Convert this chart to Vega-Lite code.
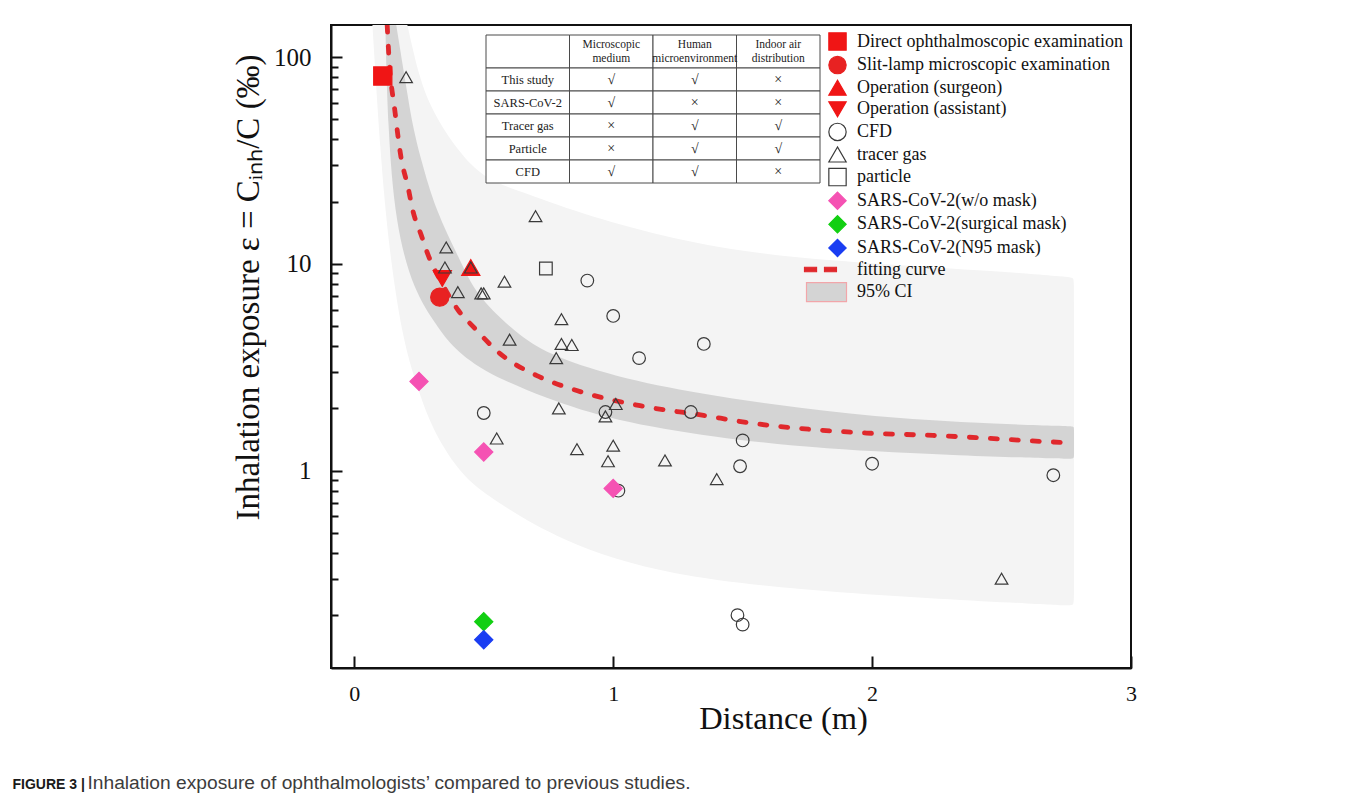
{
  "$schema": "https://vega.github.io/schema/vega-lite/v6.json",
  "width": 800,
  "height": 643,
  "autosize": {"type": "none"},
  "padding": {"left": 331, "top": 25, "right": 229, "bottom": 135},
  "background": "white",
  "config": {
    "view": {"stroke": "#111", "strokeWidth": 2},
    "axis": {"grid": false},
    "legend": {
      "labelFont": "Liberation Serif", "labelFontSize": 18, "labelColor": "#111", "labelLimit": 400,
      "labelOffset": 10, "rowPadding": 0.6, "padding": 0, "symbolOpacity": 1, "symbolSize": 300, "symbolStrokeWidth": 1.2
    }
  },
  "datasets": {
    "outerBand": [
      {"i": 1, "x": 0.205, "y": 143},
      {"i": 2, "x": 0.25, "y": 80},
      {"i": 3, "x": 0.3, "y": 55},
      {"i": 4, "x": 0.4, "y": 35},
      {"i": 5, "x": 0.5, "y": 26},
      {"i": 6, "x": 0.628, "y": 22.7},
      {"i": 7, "x": 0.873, "y": 17.5},
      {"i": 8, "x": 1.195, "y": 13.5},
      {"i": 9, "x": 1.53, "y": 11.2},
      {"i": 10, "x": 2.0, "y": 10.0},
      {"i": 11, "x": 2.5, "y": 9.2},
      {"i": 12, "x": 2.74, "y": 8.65},
      {"i": 13, "x": 2.78, "y": 8.6},
      {"i": 14, "x": 2.78, "y": 8.2},
      {"i": 15, "x": 2.78, "y": 1.5},
      {"i": 16, "x": 2.78, "y": 0.235},
      {"i": 17, "x": 2.78, "y": 0.222},
      {"i": 18, "x": 2.74, "y": 0.223},
      {"i": 19, "x": 1.85, "y": 0.255},
      {"i": 20, "x": 1.2, "y": 0.31},
      {"i": 21, "x": 0.8, "y": 0.45},
      {"i": 22, "x": 0.5, "y": 0.77},
      {"i": 23, "x": 0.4, "y": 1.0},
      {"i": 24, "x": 0.3, "y": 1.6},
      {"i": 25, "x": 0.25, "y": 2.4},
      {"i": 26, "x": 0.19, "y": 4.07},
      {"i": 27, "x": 0.134, "y": 11.6},
      {"i": 28, "x": 0.1, "y": 35},
      {"i": 29, "x": 0.07, "y": 143}
    ],
    "innerBand": [
      {"i": 1, "x": 0.162, "y": 143},
      {"i": 2, "x": 0.203, "y": 68.7},
      {"i": 3, "x": 0.225, "y": 47},
      {"i": 4, "x": 0.255, "y": 32.7},
      {"i": 5, "x": 0.315, "y": 18},
      {"i": 6, "x": 0.405, "y": 10.7},
      {"i": 7, "x": 0.47, "y": 7.0},
      {"i": 8, "x": 0.628, "y": 4.6},
      {"i": 9, "x": 0.744, "y": 3.67},
      {"i": 10, "x": 1.0, "y": 2.85},
      {"i": 11, "x": 1.336, "y": 2.35},
      {"i": 12, "x": 1.722, "y": 2.0},
      {"i": 13, "x": 2.108, "y": 1.78},
      {"i": 14, "x": 2.494, "y": 1.68},
      {"i": 15, "x": 2.74, "y": 1.645},
      {"i": 16, "x": 2.78, "y": 1.64},
      {"i": 17, "x": 2.78, "y": 1.6},
      {"i": 18, "x": 2.78, "y": 1.17},
      {"i": 19, "x": 2.78, "y": 1.14},
      {"i": 20, "x": 2.74, "y": 1.143},
      {"i": 21, "x": 2.366, "y": 1.18},
      {"i": 22, "x": 1.8, "y": 1.27},
      {"i": 23, "x": 1.387, "y": 1.45},
      {"i": 24, "x": 1.0, "y": 1.75},
      {"i": 25, "x": 0.744, "y": 2.22},
      {"i": 26, "x": 0.486, "y": 3.05},
      {"i": 27, "x": 0.37, "y": 4.07},
      {"i": 28, "x": 0.32, "y": 5.0},
      {"i": 29, "x": 0.229, "y": 7.4},
      {"i": 30, "x": 0.158, "y": 15.5},
      {"i": 31, "x": 0.129, "y": 47},
      {"i": 32, "x": 0.12, "y": 143}
    ],
    "fit": [
      {"x": 0.127, "y": 143},
      {"x": 0.133, "y": 104},
      {"x": 0.158, "y": 53.4},
      {"x": 0.178, "y": 34.2},
      {"x": 0.21, "y": 22.7},
      {"x": 0.223, "y": 18.8},
      {"x": 0.261, "y": 13.5},
      {"x": 0.281, "y": 11.4},
      {"x": 0.34, "y": 8.0},
      {"x": 0.4, "y": 6.0},
      {"x": 0.461, "y": 4.94},
      {"x": 0.564, "y": 3.67},
      {"x": 0.705, "y": 2.88},
      {"x": 0.859, "y": 2.44},
      {"x": 1.104, "y": 2.06},
      {"x": 1.349, "y": 1.85},
      {"x": 1.516, "y": 1.71},
      {"x": 1.979, "y": 1.52},
      {"x": 2.235, "y": 1.48},
      {"x": 2.726, "y": 1.37},
      {"x": 2.78, "y": 1.36}
    ],
    "points": [
      {"x": 0.11, "y": 81, "series": "Direct ophthalmoscopic examination"},
      {"x": 0.33, "y": 6.9, "series": "Slit-lamp microscopic examination"},
      {"x": 0.45, "y": 9.6, "series": "Operation (surgeon)"},
      {"x": 0.34, "y": 8.5, "series": "Operation (assistant)"},
      {"x": 0.2, "y": 80, "series": "tracer gas"},
      {"x": 0.355, "y": 12, "series": "tracer gas"},
      {"x": 0.35, "y": 9.6, "series": "tracer gas"},
      {"x": 0.45, "y": 9.6, "series": "tracer gas"},
      {"x": 0.4, "y": 7.3, "series": "tracer gas"},
      {"x": 0.49, "y": 7.2, "series": "tracer gas"},
      {"x": 0.5, "y": 7.2, "series": "tracer gas"},
      {"x": 0.58, "y": 8.2, "series": "tracer gas"},
      {"x": 0.7, "y": 17, "series": "tracer gas"},
      {"x": 0.8, "y": 5.4, "series": "tracer gas"},
      {"x": 0.6, "y": 4.3, "series": "tracer gas"},
      {"x": 0.8, "y": 4.1, "series": "tracer gas"},
      {"x": 0.84, "y": 4.05, "series": "tracer gas"},
      {"x": 0.78, "y": 3.5, "series": "tracer gas"},
      {"x": 0.79, "y": 2.0, "series": "tracer gas"},
      {"x": 1.01, "y": 2.1, "series": "tracer gas"},
      {"x": 0.97, "y": 1.83, "series": "tracer gas"},
      {"x": 0.55, "y": 1.43, "series": "tracer gas"},
      {"x": 0.86, "y": 1.27, "series": "tracer gas"},
      {"x": 1.0, "y": 1.32, "series": "tracer gas"},
      {"x": 0.98, "y": 1.11, "series": "tracer gas"},
      {"x": 1.2, "y": 1.12, "series": "tracer gas"},
      {"x": 1.4, "y": 0.91, "series": "tracer gas"},
      {"x": 2.5, "y": 0.3, "series": "tracer gas"},
      {"x": 0.9, "y": 8.3, "series": "CFD"},
      {"x": 1.0, "y": 5.6, "series": "CFD"},
      {"x": 1.35, "y": 4.1, "series": "CFD"},
      {"x": 1.1, "y": 3.5, "series": "CFD"},
      {"x": 0.5, "y": 1.9, "series": "CFD"},
      {"x": 0.97, "y": 1.92, "series": "CFD"},
      {"x": 1.3, "y": 1.92, "series": "CFD"},
      {"x": 1.5, "y": 1.4, "series": "CFD"},
      {"x": 1.49, "y": 1.05, "series": "CFD"},
      {"x": 1.02, "y": 0.8, "series": "CFD"},
      {"x": 2.0, "y": 1.08, "series": "CFD"},
      {"x": 2.7, "y": 0.95, "series": "CFD"},
      {"x": 1.48, "y": 0.2, "series": "CFD"},
      {"x": 1.5, "y": 0.18, "series": "CFD"},
      {"x": 0.74, "y": 9.5, "series": "particle"},
      {"x": 0.25, "y": 2.7, "series": "SARS-CoV-2(w/o mask)"},
      {"x": 0.5, "y": 1.23, "series": "SARS-CoV-2(w/o mask)"},
      {"x": 1.0, "y": 0.82, "series": "SARS-CoV-2(w/o mask)"},
      {"x": 0.5, "y": 0.186, "series": "SARS-CoV-2(surgical mask)"},
      {"x": 0.5, "y": 0.152, "series": "SARS-CoV-2(N95 mask)"}
    ],
    "tableHead": [
      {"row": "header", "col": "label", "text": ""},
      {"row": "header", "col": "Microscopic medium", "text": "Microscopic\nmedium"},
      {"row": "header", "col": "Human microenvironment", "text": "Human\nmicroenvironment"},
      {"row": "header", "col": "Indoor air distribution", "text": "Indoor air\ndistribution"}
    ],
    "tableBody": [
      {"row": "This study", "col": "label", "text": "This study"},
      {"row": "This study", "col": "Microscopic medium", "text": "√"},
      {"row": "This study", "col": "Human microenvironment", "text": "√"},
      {"row": "This study", "col": "Indoor air distribution", "text": "×"},
      {"row": "SARS-CoV-2", "col": "label", "text": "SARS-CoV-2"},
      {"row": "SARS-CoV-2", "col": "Microscopic medium", "text": "√"},
      {"row": "SARS-CoV-2", "col": "Human microenvironment", "text": "×"},
      {"row": "SARS-CoV-2", "col": "Indoor air distribution", "text": "×"},
      {"row": "Tracer gas", "col": "label", "text": "Tracer gas"},
      {"row": "Tracer gas", "col": "Microscopic medium", "text": "×"},
      {"row": "Tracer gas", "col": "Human microenvironment", "text": "√"},
      {"row": "Tracer gas", "col": "Indoor air distribution", "text": "√"},
      {"row": "Particle", "col": "label", "text": "Particle"},
      {"row": "Particle", "col": "Microscopic medium", "text": "×"},
      {"row": "Particle", "col": "Human microenvironment", "text": "√"},
      {"row": "Particle", "col": "Indoor air distribution", "text": "√"},
      {"row": "CFD", "col": "label", "text": "CFD"},
      {"row": "CFD", "col": "Microscopic medium", "text": "√"},
      {"row": "CFD", "col": "Human microenvironment", "text": "√"},
      {"row": "CFD", "col": "Indoor air distribution", "text": "×"}
    ]
  },
  "layer": [
    {
      "encoding": {
        "x": {
          "field": "x", "type": "quantitative",
          "scale": {"domain": [-0.09, 3.0], "nice": false, "zero": false},
          "axis": {
            "values": [0, 0.5, 1, 1.5, 2, 2.5, 3],
            "format": "d",
            "labelExpr": "datum.value % 1 === 0 ? datum.label : ''",
            "labelOverlap": false,
            "labelFlush": false,
            "labelFont": "Liberation Serif",
            "labelFontSize": 22,
            "labelColor": "#111",
            "labelPadding": 27,
            "tickSize": {"condition": {"test": "datum.value % 1 === 0", "value": -12}, "value": -6},
            "tickWidth": 2,
            "tickColor": "#111",
            "domainColor": "#111",
            "domainWidth": 2,
            "zindex": 1,
            "title": "Distance (m)",
            "titleFont": "Liberation Serif",
            "titleFontSize": 32.5,
            "titleFontWeight": "normal",
            "titleColor": "#111",
            "titleX": 452,
            "titleY": 60,
            "titleBaseline": "alphabetic"
          }
        },
        "y": {
          "field": "y", "type": "quantitative",
          "scale": {"type": "log", "domain": [0.111, 143], "nice": false},
          "axis": {
            "values": [0.2, 0.3, 0.4, 0.5, 0.6, 0.7, 0.8, 0.9, 1, 2, 3, 4, 5, 6, 7, 8, 9, 10, 20, 30, 40, 50, 60, 70, 80, 90, 100],
            "format": "d",
            "labelExpr": "datum.value === 1 || datum.value === 10 || datum.value === 100 ? datum.label : ''",
            "labelOverlap": false,
            "labelFlush": false,
            "labelFont": "Liberation Serif",
            "labelFontSize": 25,
            "labelColor": "#111",
            "labelPadding": 31,
            "tickSize": {"condition": {"test": "datum.value === 1 || datum.value === 10 || datum.value === 100", "value": -11}, "value": -7},
            "tickWidth": 2,
            "tickColor": "#111",
            "domainColor": "#111",
            "domainWidth": 2,
            "zindex": 1,
            "title": "Inhalation exposure ε = Cᵢₙₕ/C (‰)",
            "titleFont": "Liberation Serif",
            "titleFontSize": 33,
            "titleFontWeight": "normal",
            "titleColor": "#111",
            "titleX": -73,
            "titleY": 262,
            "titleBaseline": "alphabetic"
          }
        }
      },
      "layer": [
        {
          "data": {"name": "outerBand"},
          "mark": {"type": "line", "filled": true, "color": "#f4f4f4", "fill": "#f4f4f4", "strokeWidth": 0, "interpolate": "basis", "clip": true},
          "encoding": {"order": {"field": "i", "type": "quantitative"}}
        },
        {
          "data": {"name": "innerBand"},
          "mark": {"type": "line", "filled": true, "color": "#d4d4d4", "fill": "#d4d4d4", "strokeWidth": 0, "interpolate": "basis", "clip": true},
          "encoding": {"order": {"field": "i", "type": "quantitative"}}
        },
        {
          "data": {"name": "fit"},
          "mark": {"type": "line", "color": "#e0282c", "strokeWidth": 4.8, "strokeDash": [7, 14], "strokeCap": "round", "interpolate": "monotone", "clip": true},
          "encoding": {}
        },
        {
          "data": {"name": "points"},
          "mark": {"type": "point", "filled": true, "opacity": 1, "strokeWidth": 1.2, "clip": true},
          "encoding": {
            "shape": {
              "field": "series", "type": "nominal",
              "scale": {
                "domain": ["Direct ophthalmoscopic examination", "Slit-lamp microscopic examination", "Operation (surgeon)", "Operation (assistant)", "CFD", "tracer gas", "particle", "SARS-CoV-2(w/o mask)", "SARS-CoV-2(surgical mask)", "SARS-CoV-2(N95 mask)", "fitting curve", "95% CI"],
                "range": ["square", "circle", "triangle-up", "triangle-down", "circle", "triangle-up", "square", "diamond", "diamond", "diamond", "M-3.81,-0.26H-2.42V0.26H-3.81ZM-1.5,-0.26H-0.12V0.26H-1.5Z", "M-3.58,-1.1H1.04V1.1H-3.58Z"]
              },
              "legend": {"title": null, "orient": "none", "legendX": 497, "legendY": 7}
            },
            "fill": {
              "field": "series", "type": "nominal",
              "scale": {
                "domain": ["Direct ophthalmoscopic examination", "Slit-lamp microscopic examination", "Operation (surgeon)", "Operation (assistant)", "CFD", "tracer gas", "particle", "SARS-CoV-2(w/o mask)", "SARS-CoV-2(surgical mask)", "SARS-CoV-2(N95 mask)", "fitting curve", "95% CI"],
                "range": ["#f01515", "#e82222", "#f01515", "#f01515", "transparent", "transparent", "transparent", "#f552b3", "#12cf12", "#1a3df2", "#e0282c", "#d4d4d4"]
              },
              "legend": {"title": null, "orient": "none", "legendX": 497, "legendY": 7}
            },
            "stroke": {
              "field": "series", "type": "nominal",
              "scale": {
                "domain": ["Direct ophthalmoscopic examination", "Slit-lamp microscopic examination", "Operation (surgeon)", "Operation (assistant)", "CFD", "tracer gas", "particle", "SARS-CoV-2(w/o mask)", "SARS-CoV-2(surgical mask)", "SARS-CoV-2(N95 mask)", "fitting curve", "95% CI"],
                "range": ["#f01515", "#e82222", "#f01515", "#f01515", "#3a3a3a", "#3a3a3a", "#3a3a3a", "#f552b3", "#12cf12", "#1a3df2", "#e0282c", "#f2a6aa"]
              },
              "legend": {"title": null, "orient": "none", "legendX": 497, "legendY": 7}
            },
            "size": {
              "condition": {"test": "datum.series === 'CFD' || datum.series === 'tracer gas' || datum.series === 'particle'", "value": 160},
              "value": 330
            }
          }
        }
      ]
    },
    {
      "encoding": {
        "x": {
          "field": "col", "type": "nominal",
          "scale": {"type": "band", "domain": ["label", "Microscopic medium", "Human microenvironment", "Indoor air distribution"], "range": [155, 489], "paddingInner": 0, "paddingOuter": 0},
          "axis": {
            "orient": "top", "domain": false, "ticks": false, "labels": false,
            "title": "Inhalation exposure of ophthalmologists’ compared to previous studies.",
            "titleFont": "Liberation Sans", "titleFontSize": 19.2, "titleFontWeight": "normal", "titleColor": "#3c3c3c",
            "titleAngle": 0, "titleAlign": "left", "titleBaseline": "alphabetic", "titleX": -244, "titleY": 763
          }
        }
      },
      "layer": [
        {
          "data": {"name": "tableHead"},
          "encoding": {
            "y": {
              "field": "row", "type": "nominal",
              "scale": {"type": "band", "domain": ["header"], "range": [10, 43], "paddingInner": 0, "paddingOuter": 0},
              "axis": null
            }
          },
          "layer": [
            {"mark": {"type": "rect", "fill": "white", "stroke": "#4a4a4a", "strokeWidth": 1}},
            {
              "mark": {"type": "text", "font": "Liberation Serif", "fontSize": 11.5, "color": "#222", "lineBreak": "\n", "lineHeight": 14, "dy": -6.5},
              "encoding": {"text": {"field": "text"}}
            }
          ]
        },
        {
          "data": {"name": "tableBody"},
          "encoding": {
            "y": {
              "field": "row", "type": "nominal",
              "scale": {"type": "band", "domain": ["This study", "SARS-CoV-2", "Tracer gas", "Particle", "CFD"], "range": [43, 158], "paddingInner": 0, "paddingOuter": 0},
              "axis": {
                "orient": "right", "domain": false, "ticks": false, "labels": false,
                "title": "FIGURE 3 |",
                "titleFont": "Liberation Sans", "titleFontSize": 14, "titleFontWeight": "bold", "titleColor": "#1a1a1a",
                "titleAngle": 0, "titleAlign": "left", "titleBaseline": "alphabetic", "titleX": -1119, "titleY": 763
              }
            }
          },
          "layer": [
            {"mark": {"type": "rect", "fill": "white", "stroke": "#4a4a4a", "strokeWidth": 1}},
            {
              "mark": {"type": "text", "font": "Liberation Serif", "color": "#222"},
              "encoding": {
                "text": {"field": "text"},
                "size": {"condition": {"test": "datum.col === 'label'", "value": 12.5}, "value": 14}
              }
            }
          ]
        }
      ],
      "resolve": {"scale": {"y": "independent"}}
    }
  ],
  "resolve": {"scale": {"x": "independent", "y": "independent"}}
}
